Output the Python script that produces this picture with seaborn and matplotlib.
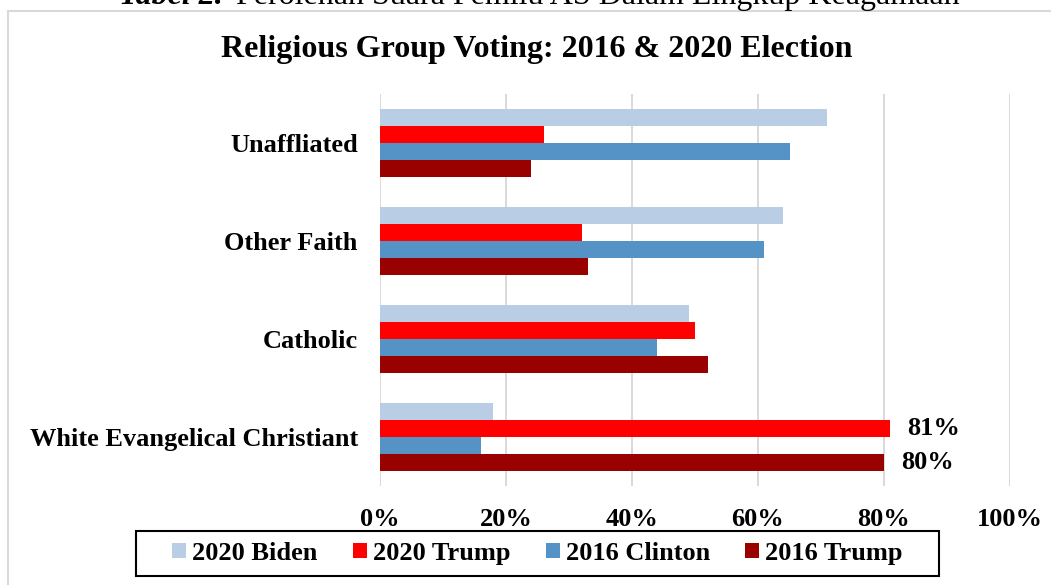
import matplotlib
matplotlib.use("Agg")
import matplotlib.pyplot as plt
import matplotlib.patches as mpatches
from matplotlib.ticker import FuncFormatter
import seaborn as sns
import pandas as pd

# ---- data ----
categories = ["Unaffliated", "Other Faith", "Catholic", "White Evangelical Christiant"]
series = ["2020 Biden", "2020 Trump", "2016 Clinton", "2016 Trump"]
biden_2020 = [71, 64, 49, 18]
trump_2020 = [26, 32, 50, 81]
clinton_2016 = [65, 61, 44, 16]
trump_2016 = [24, 33, 52, 80]
colors = ["#B9CDE5", "#FF0000", "#5592C6", "#990000"]
x_ticks = [0, 20, 40, 60, 80, 100]
title = "Religious Group Voting: 2016 & 2020 Election"
caption_bold = "Tabel 2."
caption_rest = "Perolehan Suara Pemilu AS Dalam Lingkup Keagamaan"

rows = []
for s, vals in zip(series, [biden_2020, trump_2020, clinton_2016, trump_2016]):
    for c, v in zip(categories, vals):
        rows.append({"category": c, "series": s, "value": v})
df = pd.DataFrame(rows)

sns.set_theme(style="white")
plt.rcParams["font.family"] = ["Liberation Serif", "DejaVu Serif"]
plt.rcParams["font.weight"] = "bold"
plt.rcParams["text.color"] = "black"
plt.rcParams["xtick.color"] = "black"
plt.rcParams["ytick.color"] = "black"
plt.rcParams["axes.labelcolor"] = "black"

W, H = 1051, 585
fig = plt.figure(figsize=(W / 100, H / 100), dpi=100)
fig.patch.set_facecolor("white")

def fx(px):
    return px / W

def fy(py):
    return 1 - py / H

ax = fig.add_axes([fx(380), fy(486), fx(1010) - fx(380), fy(94) - fy(486)])

sns.barplot(data=df, y="category", x="value", hue="series", order=categories,
            hue_order=series, palette=colors, orient="h", width=0.69,
            linewidth=0, saturation=1, ax=ax, legend=True)

handles, labels = ax.get_legend_handles_labels()
if ax.get_legend() is not None:
    ax.get_legend().remove()

ax.set_xlim(0, 100)
ax.set_ylim(3.5, -0.5)
ax.set_xticks(x_ticks)
ax.xaxis.set_major_formatter(FuncFormatter(lambda v, p: f"{v:.0f}%"))
ax.grid(axis="x", color="#D9D9D9", linewidth=1.4)
ax.grid(axis="y", visible=False)
ax.set_axisbelow(True)
for sp in ax.spines.values():
    sp.set_visible(False)
ax.set_xlabel("")
ax.set_ylabel("")
ax.tick_params(axis="x", length=0, pad=16, labelsize=19, labelcolor="black")
ax.tick_params(axis="y", length=0, pad=16, labelsize=19, labelcolor="black")
for lab in ax.get_xticklabels() + ax.get_yticklabels():
    lab.set_fontweight("bold")

# data labels on White Evangelical Trump bars
n = len(categories)
for ci, cont in enumerate(ax.containers[:len(series)]):
    name = series[ci]
    if name in ("2020 Trump", "2016 Trump"):
        vals = trump_2020 if name == "2020 Trump" else trump_2016
        labs = ["" for _ in range(n)]
        labs[-1] = f"{vals[-1]}%"
        ax.bar_label(cont, labels=labs, padding=12, fontsize=19, fontweight="bold",
                     color="black")

# title and caption
fig.text(fx(537), fy(50), title, ha="center", va="center", fontsize=23,
         fontweight="bold", color="black")
fig.text(fx(119), fy(4), caption_bold, ha="left", va="baseline", fontsize=23,
         fontweight="bold", fontstyle="italic", color="black")
fig.text(fx(236), fy(4), caption_rest, ha="left", va="baseline", fontsize=23,
         fontweight="normal", color="black")

# outer chart border
fig.patches.append(mpatches.Rectangle((fx(8), -0.2), 1.5, fy(10.7) + 0.2, fill=False,
                                      edgecolor="#D9D9D9", linewidth=1.5,
                                      transform=fig.transFigure, figure=fig))

# legend box
fig.patches.append(mpatches.Rectangle((fx(136), fy(576)), fx(939) - fx(136), fy(531) - fy(576),
                                      fill=False, edgecolor="black", linewidth=1.5,
                                      transform=fig.transFigure, figure=fig))
leg = fig.legend(handles, labels, loc="center", bbox_to_anchor=(fx(537.5), fy(553.5)),
                 ncol=4, frameon=False, handlelength=0.53, handleheight=0.53,
                 handletextpad=0.23, columnspacing=1.33, borderpad=0,
                 prop={"weight": "bold", "size": 19})
for t in leg.get_texts():
    t.set_color("black")

fig.savefig("out.png", dpi=100)
